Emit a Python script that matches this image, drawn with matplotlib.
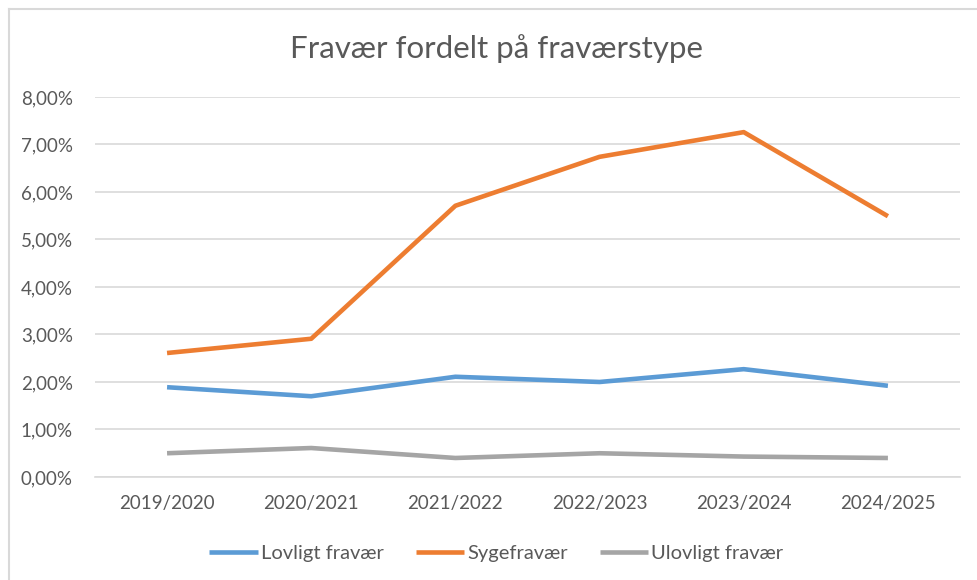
import matplotlib
matplotlib.use("Agg")
import matplotlib.pyplot as plt
from matplotlib.lines import Line2D
from matplotlib.ticker import FuncFormatter

plt.rcParams.update({
    "font.family": ["Lato", "DejaVu Sans"],
    "font.size": 13.5,
})

# data (andel i procent)
years = ["2019/2020", "2020/2021", "2021/2022", "2022/2023", "2023/2024", "2024/2025"]
lovligt = [1.89, 1.70, 2.11, 2.00, 2.27, 1.92]
syge = [2.61, 2.91, 5.71, 6.74, 7.26, 5.49]
ulovligt = [0.50, 0.61, 0.40, 0.50, 0.43, 0.40]

series = [
    ("Lovligt fravær", lovligt, "#5B9BD5"),
    ("Sygefravær", syge, "#ED7D31"),
    ("Ulovligt fravær", ulovligt, "#A5A5A5"),
]

TXT = "#595959"
GRID = "#D9D9D9"

fig = plt.figure(figsize=(9.77, 5.8), dpi=100)
ax = fig.add_axes([0.0972, 0.1776, 0.8854, 0.6552])

x = range(len(years))
for name, vals, col in series:
    ax.plot(x, vals, color=col, lw=3.3, label=name, solid_capstyle="butt")

ax.set_xlim(-0.5, len(years) - 0.5)
ax.set_ylim(0, 8)
ax.set_yticks(range(0, 9))
ax.yaxis.set_major_formatter(FuncFormatter(lambda v, p: f"{v:.2f}%".replace(".", ",")))
ax.set_xticks(list(x))
ax.set_xticklabels(years)
ax.tick_params(axis="both", length=0, colors=TXT, labelsize=13.5)
ax.tick_params(axis="y", pad=16)
ax.tick_params(axis="x", pad=13)
ax.grid(axis="y", color=GRID, lw=1.2)
ax.set_axisbelow(True)
for s in ["top", "right", "left"]:
    ax.spines[s].set_visible(False)
ax.spines["bottom"].set_color(GRID)
ax.spines["bottom"].set_linewidth(1.2)

fig.text(0.508, 0.917, "Fravær fordelt på fraværstype", ha="center", va="center",
         fontsize=22.5, color=TXT)

fig.legend(loc="center", bbox_to_anchor=(0.508, 0.046), ncol=3, frameon=False,
           handlelength=2.4, handletextpad=0.15, columnspacing=1.6,
           fontsize=14.5, labelcolor=TXT)

# chart area outline (cropped at right and bottom in the reference)
fig.add_artist(Line2D([9 / 977, 1], [1 - 9 / 580, 1 - 9 / 580], color=GRID, lw=1.5,
                      transform=fig.transFigure))
fig.add_artist(Line2D([9 / 977, 9 / 977], [0, 1 - 9 / 580], color=GRID, lw=1.5,
                      transform=fig.transFigure))

fig.savefig("out.png", dpi=100)
